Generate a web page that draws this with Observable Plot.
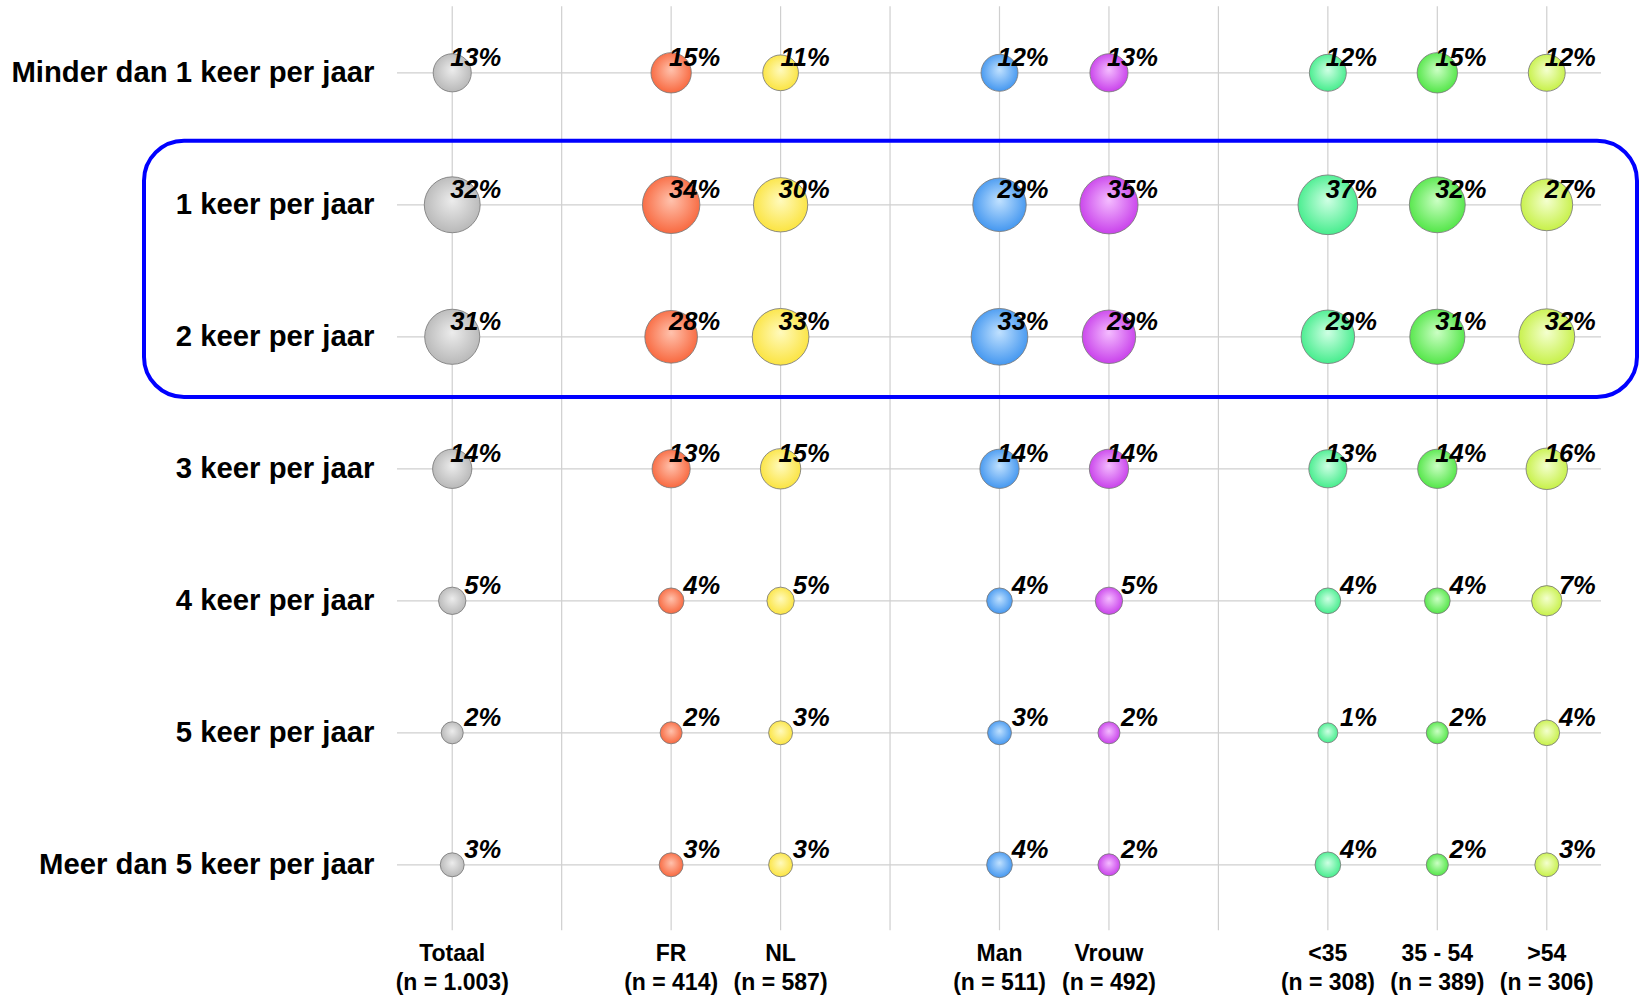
<!DOCTYPE html>
<html>
<head>
<meta charset="utf-8">
<script src="https://cdn.jsdelivr.net/npm/d3@7"></script>
<script src="https://cdn.jsdelivr.net/npm/@observablehq/plot@0.6"></script>
<style>
  html, body { margin: 0; padding: 0; background: #fff; overflow: hidden; }
  #chart svg { display: block; }
</style>
</head>
<body>
<div id="chart"></div>
<script>
// ---- data ----
const rows = [
  "Minder dan 1 keer per jaar",
  "1 keer per jaar",
  "2 keer per jaar",
  "3 keer per jaar",
  "4 keer per jaar",
  "5 keer per jaar",
  "Meer dan 5 keer per jaar"
];
const columns = ["Totaal", "FR", "NL", "Man", "Vrouw", "<35", "35 - 54", ">54"];
const sampleSizes = ["n = 1.003", "n = 414", "n = 587", "n = 511", "n = 492", "n = 308", "n = 389", "n = 306"];
const groups = [["Totaal"], ["FR", "NL"], ["Man", "Vrouw"], ["<35", "35 - 54", ">54"]];
const highlightRows = ["1 keer per jaar", "2 keer per jaar"];

const totaal = [13, 32, 31, 14, 5, 2, 3];
const fr     = [15, 34, 28, 13, 4, 2, 3];
const nl     = [11, 30, 33, 15, 5, 3, 3];
const man    = [12, 29, 33, 14, 4, 3, 4];
const vrouw  = [13, 35, 29, 14, 5, 2, 2];
const age1   = [12, 37, 29, 13, 4, 1, 4];
const age2   = [15, 32, 31, 14, 4, 2, 2];
const age3   = [12, 27, 32, 16, 7, 4, 3];
const series = [totaal, fr, nl, man, vrouw, age1, age2, age3];

// ---- styles ----
const palette = [
  ["#ececec", "#b6b6b6"],
  ["#ffc2ad", "#f8653b"],
  ["#fffabd", "#fbe33c"],
  ["#c0e1ff", "#3f94ef"],
  ["#f4bcff", "#c73cea"],
  ["#cfffe4", "#40ec89"],
  ["#cbffc4", "#4ee543"],
  ["#f4ffcf", "#c5f042"]
];
const gradIds = columns.map((c, i) => "bubble-grad-" + i);

// ---- tables built from arrays ----
const table = columns.flatMap((c, j) => series[j].map((v, i) => ({col: c, row: rows[i], v})));
const xDomain = groups.flatMap((g, k) => (k ? ["sep" + k, ...g] : g));

function gradientDefs() {
  const defs = d3.create("svg:defs");
  palette.forEach(([light, base], i) => {
    const g = defs.append("radialGradient")
      .attr("id", gradIds[i])
      .attr("cx", "50%").attr("cy", "48%").attr("r", "55%")
      .attr("fx", "50%").attr("fy", "42%");
    g.append("stop").attr("offset", "0%").attr("stop-color", light);
    g.append("stop").attr("offset", "100%").attr("stop-color", base);
  });
  return defs.node();
}

function highlightBox(index, scales, values, dims) {
  const y = scales.y;
  const step = y(rows[1]) - y(rows[0]);
  const top = y(highlightRows[0]) + 2.4;
  const bottom = y(highlightRows[highlightRows.length - 1]) + step - 5.3;
  const left = dims.marginLeft - 253;
  const right = dims.width - dims.marginRight + 36;
  return d3.create("svg:rect")
    .attr("x", left).attr("y", top)
    .attr("width", right - left).attr("height", bottom - top)
    .attr("rx", 40).attr("ry", 40)
    .attr("fill", "none")
    .attr("stroke", "#0000ff")
    .attr("stroke-width", 4)
    .node();
}

const chart = Plot.plot({
  width: 1641,
  height: 997,
  marginLeft: 397,
  marginRight: 40,
  marginTop: 6.3,
  marginBottom: 66.7,
  style: {fontFamily: "'Liberation Sans', Arial, sans-serif", color: "#000", background: "#fff"},
  x: {type: "point", domain: xDomain, padding: 0.5, round: false, axis: null},
  y: {type: "band", domain: rows, padding: 0, round: false},
  r: {type: "sqrt", transform: (v) => v + 3.5, domain: [0, 40.5], range: [0, 29.85]},
  color: {type: "ordinal", domain: columns, range: gradIds.map((id) => `url(#${id})`)},
  marks: [
    gradientDefs,
    Plot.gridX({stroke: "#cfcfcf", strokeOpacity: 1, strokeWidth: 1.2}),
    Plot.gridY({stroke: "#cfcfcf", strokeOpacity: 1, strokeWidth: 1.2}),
    Plot.axisY({tickSize: 0, tickPadding: 23, fontSize: 29.3, fontWeight: "bold", label: null}),
    Plot.text(columns, {
      x: (d) => d,
      text: (d, i) => `${d}\n(${sampleSizes[i]})`,
      frameAnchor: "bottom",
      lineAnchor: "top",
      dy: 8.5,
      lineHeight: 1.3,
      fontSize: 23,
      fontWeight: "bold"
    }),
    highlightBox,
    Plot.dot(table, {x: "col", y: "row", r: "v", fill: "col", stroke: "#7a7a7a", strokeOpacity: 0.85, strokeWidth: 1}),
    Plot.text(table, {
      x: "col", y: "row", text: (d) => d.v + "%",
      textAnchor: "end", lineAnchor: "bottom", dx: 49, dy: -6.5,
      fontSize: 25.5, fontStyle: "italic", fontWeight: "bold"
    })
  ]
});
document.getElementById("chart").appendChild(chart);
</script>
</body>
</html>
